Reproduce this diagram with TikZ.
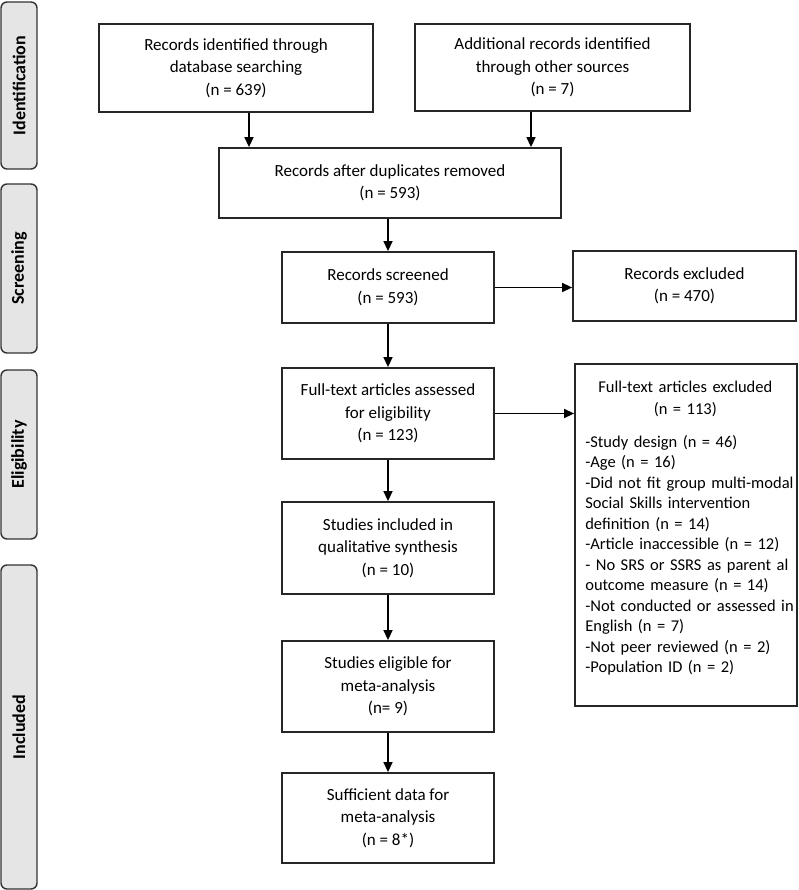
\documentclass[tikz,border=0pt]{standalone}
\usepackage{fontspec}
\setmainfont{Carlito}
\usetikzlibrary{arrows.meta}
\tikzset{
  recbox/.style={draw=black!85, line width=1.8pt, align=center, inner sep=0pt,
    font=\fontsize{17}{22.5}\selectfont},
  phasebox/.style={draw=black!80, fill=gray!20, line width=1.4pt, rounded corners=6pt,
    rotate=90, minimum height=36pt, inner sep=0pt,
    font=\fontsize{18}{22}\selectfont\bfseries},
  listtxt/.style={align=left, text width=240pt, inner sep=0pt,
    font=\fontsize{16.5}{20.5}\selectfont},
}
\begin{document}
\begin{tikzpicture}[x=1pt,y=-1pt]
      \useasboundingbox (0,0) rectangle (798,890);
      \draw
        (19,85.5) node[phasebox, minimum width=167pt] (ident){Identification}
        (19,268.5) node[phasebox, minimum width=169pt] (screen){Screening}
        (19,454.5) node[phasebox, minimum width=169pt] (elig){Eligibility}
        (19,727) node[phasebox, minimum width=324pt] (incl){Included};
      \draw
        (236,68) node[recbox, minimum width=274pt, minimum height=88pt] (db){Records identified through\\database searching\\(n = 639)}
        (552.5,67.5) node[recbox, minimum width=275pt, minimum height=87pt] (other){Additional records identified\\through other sources\\(n = 7)}
        (390,183) node[recbox, minimum width=342pt, minimum height=70pt] (dup){Records after duplicates removed\\(n = 593)}
        (388,287.5) node[recbox, minimum width=212pt, minimum height=71pt] (scr){Records screened\\(n = 593)}
        (684.5,286) node[recbox, minimum width=223pt, minimum height=70pt] (excl){Records excluded\\(n = 470)}
        (388,413.5) node[recbox, minimum width=212pt, minimum height=91pt] (full){Full-text articles assessed\\for eligibility\\(n = 123)}
        (686,535) node[recbox, minimum width=222pt, minimum height=342pt] (fexcl){}
        (388,548) node[recbox, minimum width=212pt, minimum height=92pt] (qual){Studies included in\\qualitative synthesis\\(n = 10)}
        (388,686.5) node[recbox, minimum width=212pt, minimum height=91pt] (meta){Studies eligible for\\meta-analysis\\(n= 9)}
        (388,818) node[recbox, minimum width=212pt, minimum height=90pt] (suff){Sufficient data for\\meta-analysis\\(n = 8*)};
      \node[listtxt, anchor=north west] (fexcltxt) at ([shift={(11pt,-18pt)}]fexcl.north west)
        {\makebox[200pt]{Full-text articles excluded}\\[1.5pt]
         \makebox[200pt]{(n = 113)}\\[12pt]
         -Study design (n = 46)\\
         -Age (n = 16)\\
         -Did not fit group multi-modal\\
         Social Skills intervention\\
         definition (n = 14)\\
         -Article inaccessible (n = 12)\\
         - No SRS or SSRS as parent al\\
         outcome measure (n = 14)\\
         -Not conducted or assessed in\\
         English (n = 7)\\
         -Not peer reviewed (n = 2)\\
         -Population ID (n = 2)};
      \begin{scope}[-{Triangle[length=10pt,width=9pt]}, line width=1.4pt]
        \draw ([xshift=13pt]db.south) to ([xshift=13pt]db.south |- dup.north);
        \draw ([xshift=-21.5pt]other.south) to ([xshift=-21.5pt]other.south |- dup.north);
        \draw (dup.south -| scr.north) to (scr.north);
        \draw (scr.east) to (scr.east -| excl.west);
        \draw (scr) to (full);
        \draw (full.east) to (full.east -| fexcl.west);
        \draw (full) to (qual);
        \draw (qual) to (meta);
        \draw (meta) to (suff);
      \end{scope}
    \end{tikzpicture}
\end{document}
